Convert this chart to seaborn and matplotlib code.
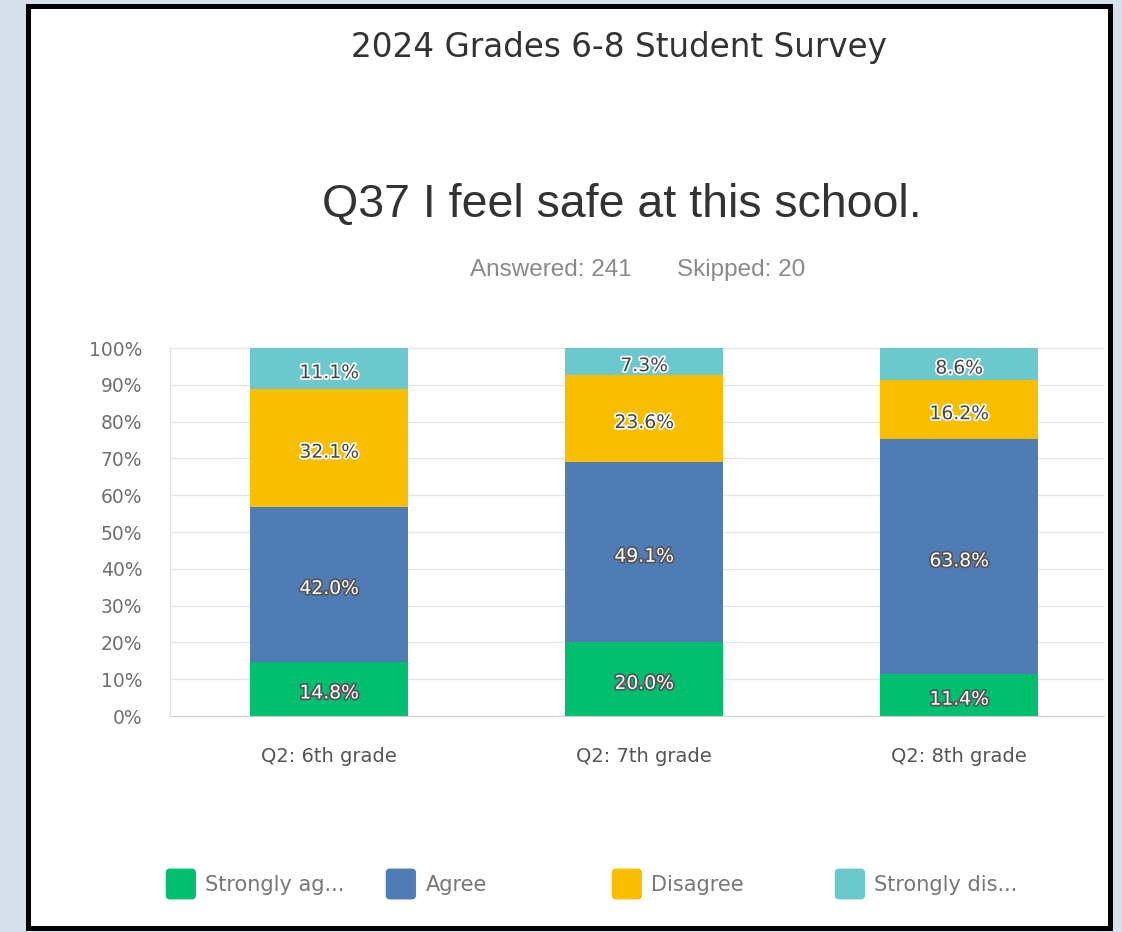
import pandas as pd
import seaborn as sns
import matplotlib.pyplot as plt
import matplotlib.patheffects as pe
from matplotlib.patches import Rectangle, FancyBboxPatch
from matplotlib.legend_handler import HandlerPatch
from matplotlib.transforms import offset_copy

# Survey data (percent of answers per grade)
grades = ["Q2: 6th grade", "Q2: 7th grade", "Q2: 8th grade"]
responses = ["Strongly agree", "Agree", "Disagree", "Strongly disagree"]
legend_labels = ["Strongly ag...", "Agree", "Disagree", "Strongly dis..."]
strongly_agree = [14.8, 20.0, 11.4]
agree = [42.0, 49.1, 63.8]
disagree = [32.1, 23.6, 16.2]
strongly_disagree = [11.1, 7.3, 8.6]
colors = ["#00bf6f", "#507cb6", "#f9be00", "#6bc8cd"]

df = pd.DataFrame({
    "grade": grades,
    "Strongly agree": strongly_agree,
    "Agree": agree,
    "Disagree": disagree,
    "Strongly disagree": strongly_disagree,
})
cum = df[responses].cumsum(axis=1)
bottoms = cum - df[responses]

sns.set_style("white")
plt.rcParams["font.family"] = ["DejaVu Sans"]

W, H = 1122, 932
fig = plt.figure(figsize=(W / 100, H / 100), dpi=100)
fig.patch.set_facecolor("#d5e0ea")

# white slide panel with black border (behind the axes)
fig.patches.append(Rectangle((27.5 / W, 1 - 928 / H), (1109.5 - 27.5) / W, (928 - 5.5) / H,
                             transform=fig.transFigure, facecolor="white",
                             edgecolor="black", linewidth=3.6, zorder=-5))

ax = fig.add_axes([170 / W, 1 - 716 / H, (1104 - 170) / W, (716 - 347) / H])
ax.set_facecolor("none")

# stacked bars: draw cumulative totals from the top segment down
for resp, col in reversed(list(zip(responses, colors))):
    sns.barplot(x=df["grade"], y=cum[resp], color=col, width=0.5,
                saturation=1, ax=ax, zorder=3, linewidth=0)

# segment labels, nudged a little below centre like the original
lab_tr = offset_copy(ax.transData, fig=fig, x=0, y=-3, units="points")
dark = [pe.withStroke(linewidth=2.5, foreground="white")]
light = [pe.withStroke(linewidth=2.5, foreground="#555555")]
for i in range(len(grades)):
    for j, resp in enumerate(responses):
        v = df[resp][i]
        y = bottoms[resp][i] + v / 2
        if j in (0, 1):
            ax.text(i, y, f"{v:.1f}%", ha="center", va="center", fontsize=13.5,
                    color="white", path_effects=light, zorder=5, transform=lab_tr)
        else:
            ax.text(i, y, f"{v:.1f}%", ha="center", va="center", fontsize=13.5,
                    color="#444444", path_effects=dark, zorder=5, transform=lab_tr)

ax.set_xlim(-0.505, 2.46)
ax.set_ylim(0, 100.3)
ax.set_yticks(range(0, 101, 10))
ax.set_yticklabels([f"{t}%" for t in range(0, 101, 10)], fontsize=13.5, color="#707070")
ax.yaxis.grid(True, color="#e6e6e6", linewidth=1)
ax.set_axisbelow(True)
ax.tick_params(axis="y", length=0, pad=20)
ax.tick_params(axis="x", length=0, pad=22, labelsize=14, labelcolor="#555555")
ax.set_xlabel("")
ax.set_ylabel("")
for s in ["top", "right"]:
    ax.spines[s].set_visible(False)
ax.spines["left"].set_color("#e0e0e0")
ax.spines["bottom"].set_color("#cfcfcf")

# titles
fig.text(619 / W, 1 - 48 / H, "2024 Grades 6-8 Student Survey", ha="center", va="center",
         fontsize=23.5, color="#333333")
fig.text(622 / W, 1 - 205 / H, "Q37 I feel safe at this school.", ha="center", va="center",
         fontsize=33.5, color="#333333", family=["Liberation Sans", "DejaVu Sans"])
fig.text(551 / W, 1 - 270 / H, "Answered: 241", ha="center", va="center",
         fontsize=17.5, color="#8a8a8a", family=["Liberation Sans", "DejaVu Sans"])
fig.text(741 / W, 1 - 270 / H, "Skipped: 20", ha="center", va="center",
         fontsize=17.5, color="#8a8a8a", family=["Liberation Sans", "DejaVu Sans"])


# rounded legend swatches
def rounded_box(legend, orig_handle, xdescent, ydescent, width, height, fontsize):
    return FancyBboxPatch((-xdescent, -ydescent), width, height,
                          boxstyle="round,pad=0,rounding_size=3")


legend_x = [166, 386, 612, 835]
for lab, col, lx in zip(legend_labels, colors, legend_x):
    h = Rectangle((0, 0), 1, 1, facecolor=col, edgecolor="none")
    fig.legend([h], [lab], loc="center left", bbox_to_anchor=((lx - 19) / W, 1 - 884 / H),
               frameon=False, fontsize=15, handlelength=1.45, handleheight=1.9,
               handletextpad=0.45, labelcolor="#777777",
               handler_map={Rectangle: HandlerPatch(patch_func=rounded_box)})

fig.savefig("out.png", dpi=100, facecolor=fig.get_facecolor())
